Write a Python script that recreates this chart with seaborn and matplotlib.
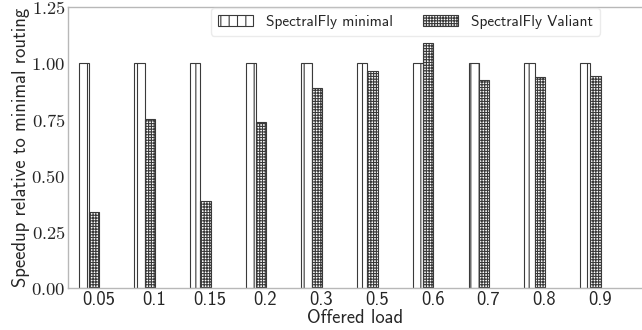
import numpy as np
import pandas as pd
import matplotlib
matplotlib.use("Agg")
import matplotlib.pyplot as plt
import matplotlib.patches as mpatches
from matplotlib.ticker import FixedLocator, FixedFormatter
import seaborn as sns

loads = ["0.05", "0.1", "0.15", "0.2", "0.3", "0.5", "0.6", "0.7", "0.8", "0.9"]
minimal = [1.0, 1.0, 1.0, 1.0, 1.0, 1.0, 1.0, 1.0, 1.0, 1.0]
valiant = [0.339, 0.753, 0.388, 0.741, 0.891, 0.967, 1.089, 0.927, 0.940, 0.945]
series_names = ["SpectralFly minimal", "SpectralFly Valiant"]
ytick_values = [0.0, 0.25, 0.5, 0.75, 1.0, 1.25]
ytick_labels = ["$0.00$", "$0.25$", "$0.50$", "$0.75$", "$1.00$", "$1.25$"]
xlabel = "Offered load"
ylabel = "Speedup relative to minimal routing"

df = pd.DataFrame({
    "load": loads * 2,
    "series": [series_names[0]] * len(loads) + [series_names[1]] * len(loads),
    "value": minimal + valiant,
})

sns.set_style("white")
plt.rcParams["font.family"] = ["cmss10", "DejaVu Sans"]
plt.rcParams["mathtext.fontset"] = "cm"
plt.rcParams["axes.unicode_minus"] = False
plt.rcParams["hatch.linewidth"] = 0.8

fig = plt.figure(figsize=(6.42, 3.3), dpi=100)
ax = fig.add_axes([0.1064, 0.1264, 0.8936, 0.8524])

edge = "#3a3a3a"
sns.barplot(data=df, x="load", y="value", hue="series", order=loads,
            hue_order=series_names, width=0.37, gap=0, dodge=True,
            palette=["white", "white"], edgecolor=edge, linewidth=0.8,
            legend=False, ax=ax, errorbar=None, saturation=1)

hatches = ["||", "++++++"]
for cont, h in zip(ax.containers, hatches):
    for bar in cont:
        bar.set_hatch(h)
        bar.set_edgecolor(edge)

ax.set_ylim(0, 1.25)
ax.set_xlim(-0.37, 9.93)
ax.yaxis.set_major_locator(FixedLocator(ytick_values))
ax.yaxis.set_major_formatter(FixedFormatter(ytick_labels))
ax.set_xticks(np.arange(len(loads)) + 0.17)
ax.set_xticklabels(loads)
ax.tick_params(axis="both", labelsize=13.4, length=0, pad=2)
ax.set_xlabel(xlabel, fontsize=13.4, labelpad=0)
ax.set_ylabel(ylabel, fontsize=13.4, labelpad=1)

for s in ["left", "bottom", "top"]:
    ax.spines[s].set_color("#b8b8b8")
    ax.spines[s].set_linewidth(1.0)
ax.spines["right"].set_visible(False)

handles = [mpatches.Patch(facecolor="white", edgecolor=edge, hatch=h, linewidth=0.8, label=n)
           for h, n in zip(hatches, series_names)]
ax.legend(handles=handles, ncol=2, fontsize=11, loc="upper left",
          bbox_to_anchor=(0.247, 1.0), frameon=True, edgecolor="#e6e6e6",
          handlelength=2.3, handleheight=0.7, handletextpad=0.85,
          columnspacing=2.0, borderpad=0.45, borderaxespad=0.05)

fig.savefig("out.png", dpi=100)
